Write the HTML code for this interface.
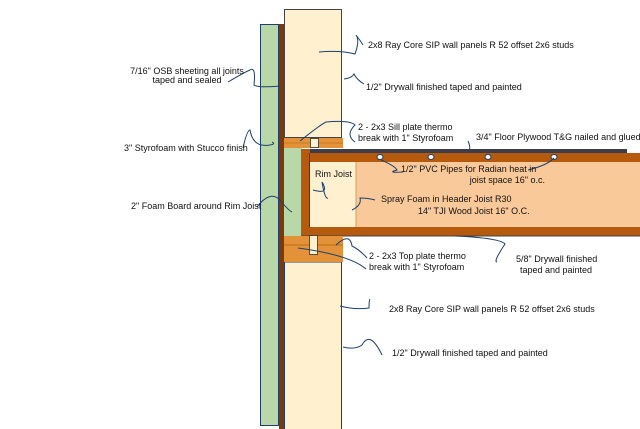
<!DOCTYPE html>
<html><head><style>
html,body{margin:0;padding:0;background:#fff;}
svg{display:block;}
text{font-family:"Liberation Sans",sans-serif;font-size:9px;fill:#111;}
</style></head><body>
<svg width="640" height="429" viewBox="0 0 640 429" xmlns="http://www.w3.org/2000/svg">
<!-- stucco foam -->
<rect x="260.5" y="24.5" width="18" height="401" fill="#b8d8a8" stroke="#1f3f6f" stroke-width="1"/>
<!-- OSB -->
<rect x="279" y="24" width="5" height="405" fill="#7a3a0a"/>
<!-- upper wall -->
<rect x="284.5" y="9.5" width="57" height="128" fill="#fff1cf" stroke="#444" stroke-width="1"/>
<!-- lower wall -->
<rect x="284.5" y="262" width="57" height="170" fill="#fff1cf" stroke="#1f3f6f" stroke-width="1"/>
<!-- sill plates -->
<rect x="284" y="138" width="59" height="10" fill="#e4923a"/>
<line x1="284" y1="143" x2="343" y2="143" fill="none" stroke="#c77a20" stroke-width="1"/>
<rect x="310.5" y="138.5" width="8" height="9" fill="#fff1cf" stroke="#333" stroke-width="0.8"/>
<!-- foam board around rim -->
<rect x="284" y="148" width="18" height="88" fill="#b8d8a8"/>
<!-- floor plywood -->
<rect x="301" y="149" width="326" height="4" fill="#3d3d4a"/>
<!-- top flange -->
<rect x="301" y="153" width="339" height="9" fill="#b65a0d"/>
<!-- rim -->
<rect x="301" y="149" width="9" height="87" fill="#b65a0d"/>
<line x1="309.5" y1="153" x2="309.5" y2="236" stroke="#1f3f6f" stroke-width="1"/>
<!-- rim joist cream -->
<rect x="310" y="162" width="46" height="65" fill="#fff1cf"/>
<rect x="356" y="162" width="284" height="65" fill="#f9c99a"/>
<line x1="356" y1="162" x2="356" y2="227" stroke="#d0a060" stroke-width="1"/>
<!-- bottom flange -->
<rect x="301" y="227" width="339" height="9" fill="#b65a0d"/>
<line x1="301" y1="236" x2="640" y2="236" stroke="#444" stroke-width="1"/>
<!-- top plates -->
<rect x="284" y="236" width="59" height="26" fill="#e4923a"/>
<line x1="284" y1="245" x2="343" y2="245" stroke="#c77a20" stroke-width="1.5"/>
<rect x="309.5" y="235.5" width="8" height="19" fill="#fff1cf" stroke="#333" stroke-width="0.8"/>
<!-- pipes -->
<g fill="#fff" stroke="#1f3f6f" stroke-width="1">
<ellipse cx="380" cy="157" rx="3" ry="2.5"/><ellipse cx="431" cy="157" rx="3" ry="2.5"/>
<ellipse cx="488" cy="157" rx="3" ry="2.5"/><ellipse cx="554" cy="157" rx="3" ry="2.5"/>
</g>
<!-- leaders -->
<g fill="none" stroke="#1f3f6f" stroke-width="1">
<path d="M319 52 Q340 50 355 54 Q360 40 356 35 Q360 40 363 45"/>
<path d="M344 79 Q352 78 354 74 Q357 80 364 84"/>
<path d="M228 82 Q245 72 250 70 Q256 66 254 85 Q258 88 280 86"/>
<path d="M243 148 Q247 130 250 130 Q253 148 270 145 Q276 144 272 142"/>
<path d="M257 207 Q270 190 280 200 Q288 210 292 212"/>
<path d="M300 141 Q320 125 326 122 Q350 120 355 125 Q345 135 355 142"/>
<path d="M468 141 Q472 150 467 152"/>
<path d="M381 160 Q395 166 397 170 Q386 173 403 172"/>
<path d="M528 170 Q548 165 554 158"/>
<path d="M313 190 Q330 195 322 182 Q325 200 328 198"/>
<path d="M352 210 Q362 205 360 198 Q368 198 375 200"/>
<path d="M336 245 Q350 232 352 246 Q360 250 367 258"/>
<path d="M298 248 Q350 255 366 269"/>
<path d="M455 236 Q500 238 505 244 Q493 262 497 262"/>
<path d="M340 306 Q355 310 369 308 Q369 300 370 299"/>
<path d="M343 347 Q355 350 362 345 Q370 330 382 355"/>
</g>
<!-- labels -->
<text x="368" y="48">2x8 Ray Core SIP wall panels R 52 offset 2x6 studs</text>
<text x="366" y="90">1/2" Drywall finished taped and painted</text>
<text x="187" y="74" text-anchor="middle">7/16" OSB sheeting all joints</text>
<text x="187" y="83" text-anchor="middle">taped and sealed</text>
<text x="124" y="151">3" Styrofoam with Stucco finish</text>
<text x="358" y="130">2 - 2x3 Sill plate thermo</text>
<text x="358" y="141">break with 1" Styrofoam</text>
<text x="476" y="140">3/4" Floor Plywood T&amp;G nailed and glued</text>
<text x="315" y="177">Rim Joist</text>
<text x="401" y="172">1/2" PVC Pipes for Radian heat in</text>
<text x="545" y="183" text-anchor="end">joist space 16" o.c.</text>
<text x="381" y="202">Spray Foam in Header Joist R30</text>
<text x="418" y="214">14" TJI Wood Joist 16" O.C.</text>
<text x="131" y="209">2" Foam Board around Rim Joist</text>
<text x="369" y="259">2 - 2x3 Top plate thermo</text>
<text x="369" y="270">break with 1" Styrofoam</text>
<text x="516" y="262">5/8" Drywall finished</text>
<text x="520" y="273">taped and painted</text>
<text x="389" y="312">2x8 Ray Core SIP wall panels R 52 offset 2x6 studs</text>
<text x="392" y="356">1/2" Drywall finished taped and painted</text>
</svg>
</body></html>
